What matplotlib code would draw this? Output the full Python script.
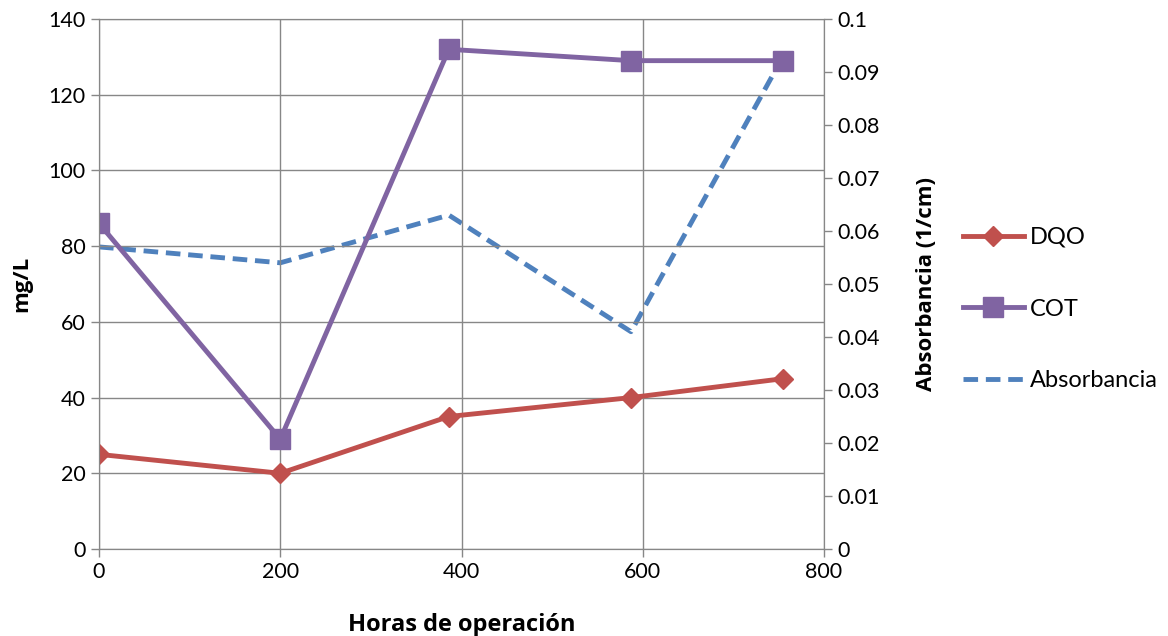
import matplotlib
matplotlib.use("Agg")
import matplotlib.pyplot as plt

plt.rcParams['font.family'] = ['Lato', 'DejaVu Sans']

horas = [0, 200, 386, 587, 755]
dqo = [25, 20, 35, 40, 45]
cot = [86, 29, 132, 129, 129]
absorbancia = [0.057, 0.054, 0.063, 0.041, 0.093]

fig = plt.figure(figsize=(11.68, 6.36), dpi=100)
ax = fig.add_axes([0.0848, 0.1368, 0.6207, 0.8333])
ax2 = ax.twinx()

grid_c = '#878787'
ax.set_xlim(0, 800)
ax.set_ylim(0, 140)
ax2.set_ylim(0, 0.1)
ax.set_xticks(range(0, 801, 200))
ax.set_yticks(range(0, 141, 20))
ax2.set_yticks([i / 100 for i in range(0, 11)])
ax2.set_yticklabels(['0'] + ['%g' % (i / 100) for i in range(1, 11)])
ax.grid(True, color=grid_c, linewidth=1)
ax.set_axisbelow(True)

for a in (ax, ax2):
    for s in a.spines.values():
        s.set_color(grid_c)
    a.tick_params(colors=grid_c, labelcolor='black', labelsize=15.5, length=6, width=1)

ax.set_zorder(ax2.get_zorder() + 1)
ax.patch.set_visible(False)

l3, = ax2.plot(horas, absorbancia, color='#4F81BD', linewidth=3.5, dashes=(3, 1.6),
               label='Absorbancia')
l1, = ax.plot(horas, dqo, color='#C0504D', linewidth=3.5, marker='D', markersize=10,
              label='DQO')
l2, = ax.plot(horas, cot, color='#8064A2', linewidth=3.5, marker='s', markersize=14,
              label='COT')

lab = dict(fontsize=16, fontweight='bold', family=['Open Sans', 'DejaVu Sans'])
ax.set_xlabel('Horas de operación', labelpad=22, fontsize=17, fontweight='bold',
              family=['Open Sans', 'DejaVu Sans'])
ax.set_ylabel('mg/L', labelpad=12, **lab)
ax2.set_ylabel('Absorbancia (1/cm)', labelpad=26, **lab)

fig.legend(handles=[l1, l2, l3], loc='center left', bbox_to_anchor=(0.806, 0.514),
           frameon=False, fontsize=17, labelspacing=2.15, handlelength=2.6,
           handletextpad=0.25)

fig.savefig('out.png', dpi=100)
